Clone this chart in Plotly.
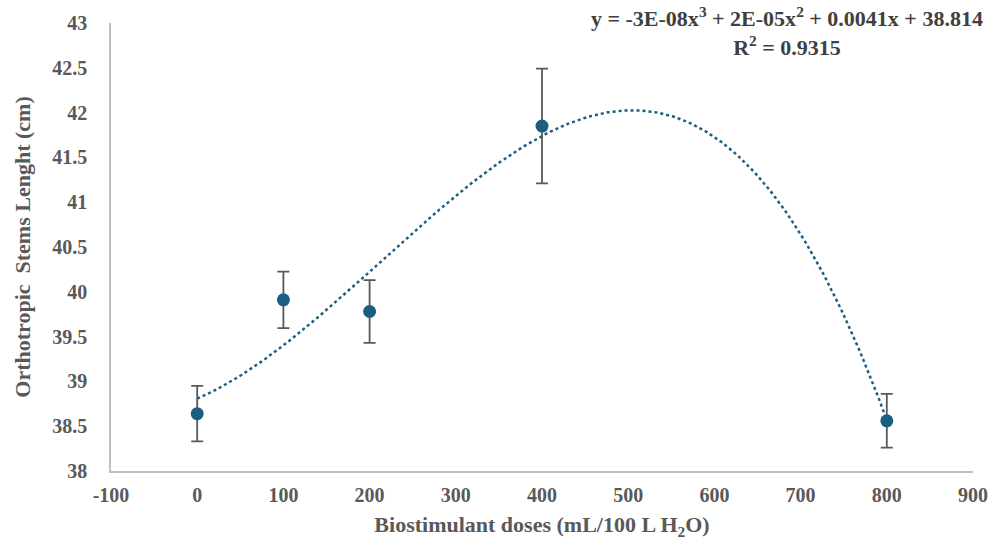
import numpy as np
import plotly.graph_objects as go

doses = [0, 100, 200, 400, 800]
length = [38.64, 39.91, 39.78, 41.85, 38.56]
err = [0.31, 0.315, 0.35, 0.64, 0.30]

x_ticks = list(range(-100, 901, 100))
x_tick_text = ["-100", "0", "100", "200", "300", "400", "500", "600", "700", "800", "900"]
y_ticks = [38, 38.5, 39, 39.5, 40, 40.5, 41, 41.5, 42, 42.5, 43]
y_tick_text = ["38", "38.5", "39", "39.5", "40", "40.5", "41", "41.5", "42", "42.5", "43"]

# cubic polynomial trendline fitted to the data
coef = np.polyfit(doses, length, 3)
xf = np.linspace(min(doses), max(doses), 300)
yf = np.polyval(coef, xf)

color = "#1a5f82"
font = "Liberation Serif, Times New Roman, serif"

fig = go.Figure()
fig.add_trace(go.Scatter(x=xf, y=yf, mode="lines",
                         line=dict(color=color, width=2.5, dash="dot"),
                         hoverinfo="skip", showlegend=False))
fig.add_trace(go.Scatter(x=doses, y=length, mode="markers",
                         marker=dict(color=color, size=13),
                         error_y=dict(type="data", array=err, color="#595959",
                                      thickness=1.8, width=6),
                         showlegend=False))

fig.update_layout(
    width=1000, height=545,
    margin=dict(l=111, r=16, t=17, b=73),
    paper_bgcolor="white", plot_bgcolor="white",
    font=dict(family=font, color="#595959", size=20),
    xaxis=dict(range=[-100, 900], tickvals=x_ticks, ticktext=x_tick_text,
               showgrid=False, zeroline=False,
               showline=True, linecolor="#BFBFBF", linewidth=1.5, ticks="",
               ticklabelstandoff=5,
               tickfont=dict(family=font, size=20, color="#595959", weight="bold"),
               title=dict(text="Biostimulant doses (mL/100 L H<sub>2</sub>O)",
                          font=dict(family=font, size=22, color="#595959", weight="bold"),
                          standoff=12)),
    yaxis=dict(range=[38, 43], tickvals=y_ticks, ticktext=y_tick_text, showgrid=False,
               zeroline=False, showline=True, linecolor="#BFBFBF", linewidth=1.5,
               ticks="", ticklabelstandoff=18,
               tickfont=dict(family=font, size=20, color="#595959", weight="bold"),
               title=dict(text="Orthotropic  Stems Lenght (cm)",
                          font=dict(family=font, size=22, color="#595959", weight="bold"),
                          standoff=16)),
    annotations=[dict(
        text="y = -3E-08x<sup>3</sup> + 2E-05x<sup>2</sup> + 0.0041x + 38.814<br>R<sup>2</sup> = 0.9315",
        xref="paper", yref="paper", x=0.784, y=1.05, xanchor="center", yanchor="top",
        showarrow=False, align="center",
        font=dict(family=font, size=22, color="#404040", weight="bold"))]
)

fig.write_html("out.html")
